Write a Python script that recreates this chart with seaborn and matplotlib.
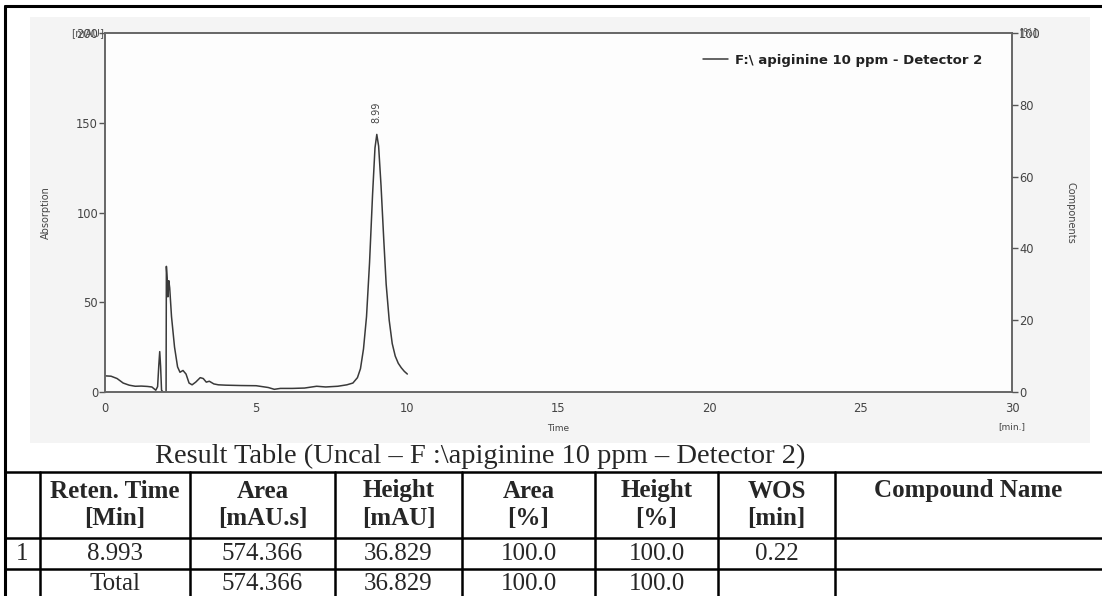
import matplotlib
matplotlib.use("Agg")
import matplotlib.pyplot as plt
import seaborn as sns
import pandas as pd
from matplotlib.lines import Line2D
from matplotlib.patches import Rectangle

# chromatogram
time_min = [0.00, 0.20, 0.40, 0.60, 0.80, 1.00, 1.20, 1.40, 1.55, 1.68, 1.74, 1.78, 1.81,
            1.84, 1.87, 1.92, 2.00, 2.02, 2.03, 2.06, 2.08, 2.11, 2.14, 2.20, 2.30, 2.40,
            2.48, 2.58, 2.68, 2.78, 2.88, 3.00, 3.15, 3.25, 3.35, 3.45, 3.60, 3.75, 4.00,
            4.50, 5.00, 5.40, 5.60, 5.80, 6.20, 6.60, 7.00, 7.30, 7.70, 8.00, 8.20, 8.35,
            8.45, 8.55, 8.65, 8.75, 8.85, 8.93, 8.99, 9.05, 9.13, 9.22, 9.30, 9.40, 9.50,
            9.60, 9.70, 9.80, 9.90, 10.00]
signal_mau = [9.0, 8.8, 7.5, 5.0, 3.8, 3.2, 3.3, 3.1, 2.8, 1.0, 3.0, 15.0, 22.5,
              14.0, 1.0, 0.0, 0.0, 0.0, 70.0, 62.0, 53.0, 62.0, 58.0, 42.0, 25.0, 14.0,
              11.0, 12.0, 10.0, 5.0, 4.0, 5.5, 8.0, 7.5, 5.5, 6.0, 4.5, 4.0, 3.8,
              3.6, 3.5, 2.5, 1.5, 2.0, 2.0, 2.2, 3.2, 2.8, 3.2, 4.0, 5.0, 8.0,
              13.0, 24.0, 42.0, 72.0, 110.0, 136.0, 143.5, 137.0, 115.0, 85.0, 60.0, 40.0, 27.0,
              20.0, 16.0, 13.5, 11.5, 10.0]
peak_rt = 8.99
peak_height = 143.5
peak_label = "8.99"
legend_label = "F:\\ apiginine 10 ppm - Detector 2"

x_ticks = [0, 5, 10, 15, 20, 25, 30]
y_ticks = [0, 50, 100, 150, 200]
y2_ticks = [0, 20, 40, 60, 80, 100]

# result table
table_title = "Result Table (Uncal \u2013 F :\\apiginine 10 ppm \u2013 Detector 2)"
col_head_1 = ["", "Reten. Time", "Area", "Height", "Area", "Height", "WOS", "Compound Name"]
col_head_2 = ["", "[Min]", "[mAU.s]", "[mAU]", "[%]", "[%]", "[min]", ""]
row_1 = ["1", "8.993", "574.366", "36.829", "100.0", "100.0", "0.22", ""]
row_total = ["", "Total", "574.366", "36.829", "100.0", "100.0", "", ""]

W, H = 1102, 596


def fx(px):
    return px / W


def fy(py):
    return 1 - py / H


sns.set_theme(style="white")
plt.rcParams["font.family"] = ["DejaVu Sans"]

fig = plt.figure(figsize=(W / 100, H / 100), dpi=100)
fig.patch.set_facecolor("white")

# light panel behind the chromatogram
fig.add_artist(Rectangle((fx(30), fy(443)), fx(1090) - fx(30), fy(17) - fy(443),
                         transform=fig.transFigure, facecolor="#f4f4f4", edgecolor="none", zorder=0))

ax = fig.add_axes([fx(105), fy(392), fx(1012) - fx(105), fy(33) - fy(392)])
ax.set_facecolor("#fdfdfd")

df = pd.DataFrame({"Time": time_min, "Signal": signal_mau})
sns.lineplot(data=df, x="Time", y="Signal", ax=ax, color="#3a3a3a", linewidth=1.1,
             estimator=None, sort=False, label=legend_label)

ax.set_xlim(0, 30)
ax.set_ylim(0, 200)
ax.set_xticks(x_ticks)
ax.set_yticks(y_ticks)
tick_col = "#555555"
ax.tick_params(axis="both", direction="out", length=4, width=1, colors=tick_col,
               labelsize=8.3, labelcolor="#444444", pad=1)
ax.tick_params(axis="x", pad=3)
for s in ax.spines.values():
    s.set_color("#666666")
    s.set_linewidth(1.4)
ax.set_xlabel("Time", fontsize=6.5, color="#444444", labelpad=7)
ax.set_ylabel("Absorption", fontsize=7, color="#444444", labelpad=18)

ax2 = ax.twinx()
ax2.set_ylim(0, 100)
ax2.set_yticks(y2_ticks)
ax2.tick_params(axis="y", direction="out", length=4, width=1, colors=tick_col,
                labelsize=8.3, labelcolor="#444444", pad=1)
for s in ax2.spines.values():
    s.set_visible(False)
ax2.set_ylabel("Components", fontsize=7, color="#444444", rotation=270, labelpad=25)
ax2.grid(False)

# unit labels printed over the top tick labels, as in the original export
fig.text(fx(88), fy(33), "[mAU]", fontsize=7.5, color="#555555", ha="center", va="center")
fig.text(fx(1028), fy(32), "[%]", fontsize=7.5, color="#555555", ha="center", va="center")
fig.text(fx(1012), fy(427), "[min.]", fontsize=6.5, color="#444444", ha="center", va="center")

ax.annotate(peak_label, (peak_rt, peak_height), xytext=(0, 8), textcoords="offset points",
            rotation=90, ha="center", va="bottom", fontsize=7, color="#444444")

leg = ax.legend(loc="upper right", bbox_to_anchor=(0.98, 0.975), frameon=False,
                handlelength=1.9, handletextpad=0.5,
                prop={"family": "DejaVu Sans", "weight": "bold", "size": 9.5})
for t in leg.get_texts():
    t.set_color("#222222")

# outer border
fig.add_artist(Line2D([fx(5), fx(5)], [fy(6), 0], color="black", lw=2.2, transform=fig.transFigure))
fig.add_artist(Line2D([fx(5), 1], [fy(6), fy(6)], color="black", lw=2.2, transform=fig.transFigure))

# table
serif = "Liberation Serif"
fsz = 18
fig.text(fx(480), fy(456), table_title, fontsize=20.5, family=serif, ha="center", va="center")

col_x = [5, 40, 190, 335, 462, 595, 718, 835, 1102]
line_title = 472
line_head = 538
line_row1 = 569
for yy in (line_title, line_head, line_row1):
    fig.add_artist(Line2D([fx(5), 1], [fy(yy), fy(yy)], color="black", lw=1.8,
                          transform=fig.transFigure))
for xx in col_x[1:-1]:
    fig.add_artist(Line2D([fx(xx), fx(xx)], [fy(line_title), 0], color="black", lw=1.8,
                          transform=fig.transFigure))

for i in range(len(col_head_1)):
    cx = (col_x[i] + col_x[i + 1]) / 2
    fig.text(fx(cx), fy(491), col_head_1[i], fontsize=fsz, family=serif, weight="bold",
             ha="center", va="center")
    fig.text(fx(cx), fy(519), col_head_2[i], fontsize=fsz, family=serif, weight="bold",
             ha="center", va="center")
    fig.text(fx(cx), fy(554), row_1[i], fontsize=fsz, family=serif, ha="center", va="center")
    fig.text(fx(cx), fy(584), row_total[i], fontsize=fsz, family=serif, ha="center", va="center")

fig.savefig("out.png", dpi=100)
